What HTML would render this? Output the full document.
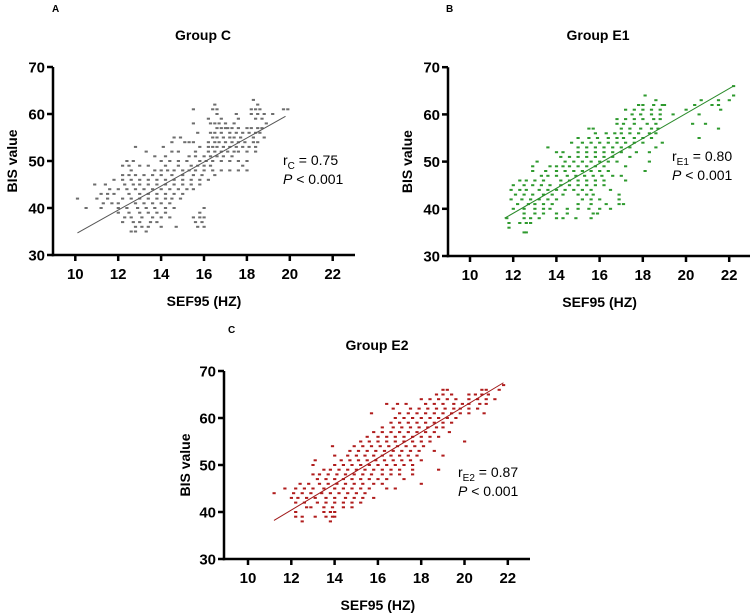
<!DOCTYPE html>
<html><head><meta charset="utf-8"><style>
html,body{margin:0;padding:0;background:#fff;}
svg{display:block;font-family:"Liberation Sans",Arial,sans-serif;}
</style></head><body>
<svg id="fig" width="753" height="614" viewBox="0 0 753 614" xmlns="http://www.w3.org/2000/svg"></svg>
<script>
// ---- Data: per BIS level, list of SEF95 values ----
const bisLevelsA=[63,62,61,60,59,58,57,56,55,54,53,52,51,50,49,48,47,46,45,44,43,42,41,40,39,38,37,36,35];
const sefA=[[18.3],[16.5,18.5],[15.5,16.4,16.6,18.2,18.4,18.6,19.7,19.9],[16.6,17.5,18.2,18.5,18.8,19.2],[16.2,16.8,17.6,18.4,18.7],[15.5,16.3,16.5,16.7,17.0,17.4,18.9],[16.6,16.8,17.0,17.1,17.3,17.6,18.0,18.2,18.5,18.7],[15.7,16.3,16.5,16.8,17.2,17.5,17.8,18.1,18.4,18.6],[14.6,14.9,16.4,16.6,16.9,17.2,17.4,17.7,18.3,18.8],[14.5,15.1,15.3,15.5,16.2,16.5,16.7,17.0,17.3,17.6,17.9,18.3,18.5],[12.8,14.1,15.8,16.2,16.4,16.6,16.9,17.2,17.5,17.8,18.1,18.4],[13.3,14.5,14.8,15.6,16.2,16.5,16.8,17.1,17.4,17.6,18.0,18.4],[13.7,14.2,15.3,15.6,16.0,16.3,16.6,16.9,17.3],[12.4,12.7,14.0,14.4,14.8,15.2,15.8,16.1,16.4,16.8,17.2,17.6,18.0],[12.2,12.5,13.0,13.4,14.2,14.8,15.4,15.7,16.0,16.3,17.8],[12.6,13.7,14.0,14.3,14.6,15.0,15.3,15.6,16.0,16.4,16.8,17.2,17.6,18.0],[12.2,12.5,12.8,13.2,13.6,14.0,14.5,15.0,15.5,15.9,16.5],[11.8,12.2,12.6,13.0,13.4,13.8,14.2,14.6,15.0,15.4,15.8,16.2],[10.9,11.4,12.3,12.7,13.0,13.4,13.8,14.2,14.6,15.0,15.4,15.8],[11.6,12.0,12.4,12.8,13.2,13.6,14.0,14.4,14.8,15.2,15.5],[11.2,11.5,11.8,12.5,13.0,13.4,13.8,14.2,14.6,15.0],[10.1,11.0,11.5,12.2,12.6,13.0,13.4,13.8,14.2,14.5,14.9],[11.3,11.7,12.0,12.8,13.2,13.6,14.0,14.4],[10.5,11.2,12.0,12.4,12.9,13.3,13.7,14.2,14.6,16.0],[12.0,12.5,13.0,13.4,13.8,14.2,15.8],[12.3,12.6,13.1,13.6,14.0,14.4,15.5,15.8,16.0],[12.2,12.7,13.0,13.5,13.8,15.6,15.9],[12.8,13.1,13.4,14.0,14.7,15.7,16.0],[12.6,12.8,13.3]];
const fitA=[[10.1,34.7],[19.8,59.5]];

const bisLevelsB=[66,64,63,62,61,60,59,58,57,56,55,54,53,52,51,50,49,48,47,46,45,44,43,42,41,40,39,38,37,36,35];
const sefB=[[22.2],[18.1,22.2],[18.6,20.7,21.5,22.0],[17.8,18.0,18.5,18.9,19.0,20.4,21.2,21.5],[17.2,17.6,18.0,18.4,18.8,20.0,21.6],[17.5,17.9,18.4,18.8,19.4,20.6],[16.8,17.2,17.6,18.0,18.5,18.8],[16.8,17.1,17.6,18.2,18.6,20.3,20.9],[15.5,15.7,17.0,17.4,17.9,18.4,18.7,21.5],[15.8,16.3,16.7,17.0,17.4,17.8,18.3,18.6],[15.0,15.5,15.9,16.4,16.8,17.1,17.6,18.0,18.4,20.6],[14.7,15.2,15.6,16.0,16.4,16.8,17.2,17.6,18.0,18.9],[13.6,15.0,15.4,15.8,16.2,16.6,17.0,17.4,18.6],[14.0,14.3,15.0,15.4,15.8,16.2,16.6,17.0,17.7,18.3],[14.2,14.6,15.0,15.4,15.8,16.2,16.6,17.4],[13.1,14.4,14.8,15.2,15.6,16.0,16.4,16.8,18.3],[12.9,13.7,14.0,14.3,14.6,15.0,15.4,15.8,16.2,17.2],[12.9,13.5,14.0,14.4,14.8,15.2,15.6,16.0,16.4,18.1],[13.3,13.6,14.0,14.5,14.9,15.3,15.7,16.1,16.6,17.0],[12.3,12.6,13.0,13.4,14.2,14.6,15.0,15.4,15.8,16.2,17.2],[12.0,12.5,12.9,13.3,13.7,14.2,14.6,15.0,15.4,15.8,16.2],[11.9,12.3,12.6,13.2,13.6,14.0,14.4,14.8,15.2,15.6,16.5],[12.1,12.5,12.9,13.4,13.8,14.3,15.0,15.4,15.7,16.9],[11.9,12.4,12.8,13.2,13.6,14.0,15.2,15.6,16.0,16.9],[12.2,12.7,13.0,13.4,13.8,15.0,15.6,16.3,16.9,17.1],[12.0,12.5,13.0,13.4,13.7,14.5,15.0,15.5,16.0,16.5],[12.5,13.0,13.4,14.0,14.5,15.7,15.9],[11.7,12.5,12.8,13.2,14.0,14.3,14.9,15.6],[11.8,12.3,12.6,12.8],[11.8],[12.5,12.6]];
const fitB=[[11.6,38.0],[22.2,66.0]];

const bisLevelsC=[67,66,65,64,63,62,61,60,59,58,57,56,55,54,53,52,51,50,49,48,47,46,45,44,43,42,41,40,39,38];
const sefC=[[21.8],[19.0,19.2,20.8,21.0,21.6],[18.7,19.0,19.4,20.2,20.5,20.8,21.1],[18.0,18.4,18.8,19.2,19.6,20.2,20.6,21.0,21.4],[16.4,16.9,17.3,18.2,18.6,19.0,19.5,19.9,20.2,20.7,21.0],[16.7,17.5,17.9,18.3,18.7,19.1,19.5,19.8,20.2,20.6],[15.7,17.0,17.4,17.8,18.2,18.6,19.0,19.4,19.8,20.2,20.9],[16.8,17.2,17.6,18.0,18.4,18.8,19.2,19.6],[16.6,17.0,17.4,17.8,18.2,18.6,19.0,19.4],[16.2,16.7,17.1,17.5,17.9,18.3,18.7,19.0],[15.8,16.2,16.6,17.0,17.4,17.8,18.2,18.6,19.3],[15.5,16.0,16.4,16.8,17.2,17.6,18.0,18.4,18.8],[15.2,15.6,16.0,16.4,16.8,17.2,17.6,18.0,18.4,20.0],[13.9,14.9,15.3,15.7,16.1,16.5,16.9,17.3,17.7,18.1],[14.7,15.1,15.5,15.9,16.3,16.7,17.1,17.5,17.9,18.6],[14.0,14.6,15.0,15.4,15.8,16.2,16.6,17.0,17.4,17.8,19.0],[13.1,14.3,14.7,15.1,15.5,15.9,16.3,16.7,17.1,17.5,18.0],[13.0,14.0,14.4,14.8,15.2,15.6,16.0,16.4,16.8,17.2,17.6],[13.5,13.8,14.2,14.6,15.0,15.4,15.8,16.2,16.6,17.0,17.6,18.8],[13.0,13.3,13.7,14.1,14.5,14.9,15.3,15.7,16.2,16.6,17.0,17.6],[13.2,13.6,14.0,14.4,14.8,15.2,15.6,16.0,16.4,17.2],[12.4,12.8,13.3,13.7,14.1,14.5,14.9,15.3,15.8,16.2,18.0],[11.7,12.2,12.6,13.0,13.5,14.0,14.4,14.8,15.2,15.6,16.4,16.8],[11.2,12.1,12.5,12.9,13.4,13.8,14.2,14.6,15.0,15.4],[12.0,12.3,12.7,13.1,13.6,14.0,14.5,14.9,15.3,15.8],[12.2,12.6,13.2,13.6,14.0,14.4,14.8,15.2],[12.7,12.9,13.5,13.9,14.4,14.8],[12.2,13.5,13.8,14.0],[12.2,12.5,13.1,13.6,13.9,14.0],[12.5,13.8]];
const fitC=[[11.2,38.2],[21.8,67.5]];

const xTicksA=[10,12,14,16,18,20,22];
const xTicksBC=[10,12,14,16,18,20,22];
const yTicks=[30,40,50,60,70];

const NS='http://www.w3.org/2000/svg';
const svg=document.getElementById('fig');
function mk(tag,attrs,parent){const e=document.createElementNS(NS,tag);for(const k in attrs)e.setAttribute(k,attrs[k]);(parent||svg).appendChild(e);return e;}

function panel(p){
  const g=mk('g',{});
  
  
  const sx=v=>p.x10+(v-10)*p.ppu;
  const sy=v=>p.y30-(v-30)*p.ppy;
  const L=mk('text',{x:p.letterX,y:p.letterY,'font-size':10,'font-weight':'bold',fill:'#000'},g);L.textContent=p.letter;
  
  
  const T=mk('text',{x:p.titleX,y:p.titleY,'font-size':14,'font-weight':'bold','text-anchor':'middle',fill:'#000'},g);T.textContent=p.title;
  
  
  const pts=mk('g',{fill:p.color},g);
  
  
  p.levels.forEach((b,i)=>{p.sefs[i].forEach(s=>{
    const r=mk('rect',{x:(sx(s)-1.5).toFixed(1),y:(sy(b)-1).toFixed(1),width:3.2,height:2},pts);
    
    
  });});
  const ln=mk('line',{x1:sx(p.fit[0][0]),y1:sy(p.fit[0][1]),x2:sx(p.fit[1][0]),y2:sy(p.fit[1][1]),stroke:p.lineColor,'stroke-width':1},g);
  
  
  const top=sy(70), bot=sy(30);
  const ya=mk('line',{x1:p.axisX,y1:top,x2:p.axisX,y2:bot+1.25,stroke:'#000','stroke-width':2.5},g);
  
  
  const xa=mk('line',{x1:p.axisX-1.25,y1:bot,x2:p.axisEnd,y2:bot,stroke:'#000','stroke-width':2.5},g);
  
  
  yTicks.forEach(t=>{
    mk('line',{x1:p.axisX-6,y1:sy(t),x2:p.axisX,y2:sy(t),stroke:'#000','stroke-width':2.5},g);
    const tx=mk('text',{x:p.axisX-8,y:sy(t)+5.5,'font-size':15,'font-weight':'bold','text-anchor':'end',fill:'#000'},g);tx.textContent=t;
    
    
  });
  p.xticks.forEach(t=>{
    mk('line',{x1:sx(t),y1:bot,x2:sx(t),y2:bot+6,stroke:'#000','stroke-width':2.5},g);
    const tx=mk('text',{x:sx(t),y:bot+24,'font-size':15,'font-weight':'bold','text-anchor':'middle',fill:'#000'},g);tx.textContent=t;
    
    
  });
  const xt=mk('text',{x:(sx(10)+sx(22))/2,y:bot+51,'font-size':14,'font-weight':'bold','text-anchor':'middle',fill:'#000'},g);xt.textContent='SEF95 (HZ)';
  
  
  const yt=mk('text',{x:0,y:0,'font-size':14,'font-weight':'bold','text-anchor':'middle',fill:'#000',transform:`translate(${p.yTitleX},${(top+bot)/2}) rotate(-90)`},g);yt.textContent='BIS value';
  
  
  const a1=mk('text',{x:p.annX,y:p.annY,'font-size':14,fill:'#000'},g);
  a1.innerHTML='r<tspan font-size="10" dy="4">'+p.sub+'</tspan><tspan dy="-4"> = '+p.r+'</tspan>';
  
  
  const a2=mk('text',{x:p.annX,y:p.annY+19,'font-size':14,fill:'#000'},g);
  a2.innerHTML='<tspan font-style="italic">P</tspan> &lt; 0.001';
  
  
}

panel({id:'group-c',letter:'A',letterX:52,letterY:12,title:'Group C',titleX:203,titleY:40,
  x10:75.3,ppu:21.45,y30:255,ppy:4.7,axisX:53,axisEnd:355,yTitleX:17,
  levels:bisLevelsA,sefs:sefA,fit:fitA,xticks:xTicksA,color:'#6e6e6e',lineColor:'#555',
  annX:283,annY:165,sub:'C',r:'0.75'});
panel({id:'group-e1',letter:'B',letterX:446,letterY:12,title:'Group E1',titleX:598,titleY:40,
  x10:470,ppu:21.6,y30:256,ppy:4.72,axisX:448,axisEnd:750,yTitleX:412,
  levels:bisLevelsB,sefs:sefB,fit:fitB,xticks:xTicksBC,color:'#2e9a2e',lineColor:'#2a8a2a',
  annX:672,annY:161,sub:'E1',r:'0.80'});
panel({id:'group-e2',letter:'C',letterX:228,letterY:333,title:'Group E2',titleX:377,titleY:350,
  x10:248,ppu:21.65,y30:559,ppy:4.7,axisX:224,axisEnd:530,yTitleX:190,
  levels:bisLevelsC,sefs:sefC,fit:fitC,xticks:xTicksBC,color:'#b01c1c',lineColor:'#a01818',
  annX:458,annY:477,sub:'E2',r:'0.87'});
</script>
</body></html>
